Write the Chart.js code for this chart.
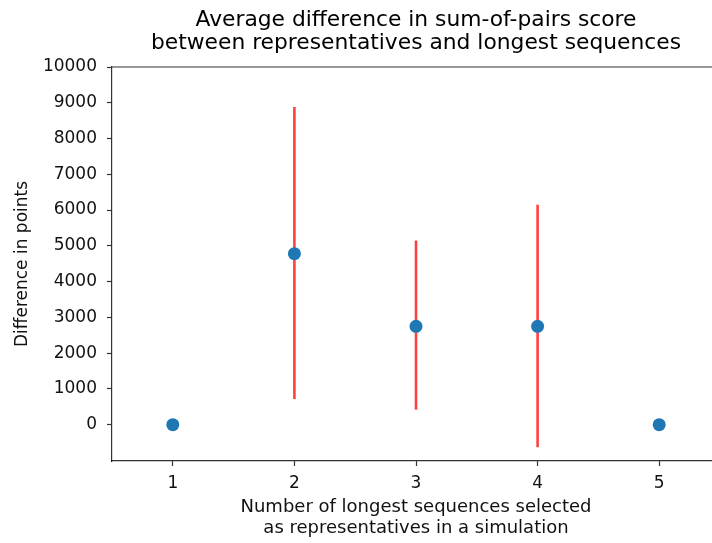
<!DOCTYPE html>
<html>
<head>
<meta charset="utf-8">
<script src="https://cdn.jsdelivr.net/npm/chart.js@4/dist/chart.umd.min.js"></script>
<style>
html, body { margin: 0; padding: 0; background: #fff; overflow: hidden; }
#wrap { position: absolute; left: 0; top: 0; width: 740px; height: 543px; }
</style>
</head>
<body>
<div id="wrap"><canvas id="c" width="740" height="543"></canvas></div>
<script>
const titleLines = ["Average difference in sum-of-pairs score", "between representatives and longest sequences"];
const xTitleLines = ["Number of longest sequences selected", "as representatives in a simulation"];
const yTitle = "Difference in points";
const xValues = [1, 2, 3, 4, 5];
const means = [0, 4780, 2750, 2750, 0];
const errLow = [0, 720, 420, -630, 0];
const errHigh = [0, 8880, 5150, 6150, 0];
const xTicks = [1, 2, 3, 4, 5];
const yTicks = [0, 1000, 2000, 3000, 4000, 5000, 6000, 7000, 8000, 9000, 10000];

const FONT = "'DejaVu Sans', sans-serif";
const AXIS = 'rgba(0,0,0,0.8)';

const datasets = [];
datasets.push({
  label: 'mean',
  data: xValues.map((x, i) => ({ x: x, y: means[i] })),
  backgroundColor: '#1f77b4',
  borderColor: '#1f77b4',
  pointRadius: 6.5,
  pointBorderWidth: 0,
  showLine: false,
  order: 0
});
xValues.forEach((x, i) => {
  datasets.push({
    label: 'err' + i,
    data: [{ x: x, y: errLow[i] }, { x: x, y: errHigh[i] }],
    borderColor: 'rgba(255,0,0,0.75)',
    borderWidth: 2.6,
    pointRadius: 0,
    showLine: true,
    order: 1
  });
});

const titlePlugin = {
  id: 'axesTitle',
  afterDraw(chart) {
    const { ctx, chartArea } = chart;
    ctx.save();
    ctx.strokeStyle = AXIS;
    ctx.lineWidth = 1.2;
    ctx.beginPath();
    ctx.moveTo(chartArea.left, chartArea.top);
    ctx.lineTo(chartArea.right, chartArea.top);
    ctx.lineTo(chartArea.right, chartArea.bottom);
    ctx.stroke();
    ctx.fillStyle = '#000';
    ctx.font = "21.8px " + FONT;
    ctx.textAlign = 'center';
    ctx.textBaseline = 'alphabetic';
    const cx = (chartArea.left + chartArea.right) / 2;
    ctx.fillText(titleLines[0], cx, 26);
    ctx.fillText(titleLines[1], cx, 49);
    ctx.restore();
  }
};

new Chart(document.getElementById('c'), {
  type: 'scatter',
  data: { datasets },
  options: {
    responsive: false,
    animation: false,
    devicePixelRatio: 1,
    layout: { padding: { top: 67, right: 20, left: 0, bottom: 0 } },
    plugins: { legend: { display: false }, tooltip: { enabled: false } },
    scales: {
      x: {
        type: 'linear',
        min: 0.5,
        max: 5.5,
        afterFit: s => { s.height = 82; },
        afterBuildTicks: s => { s.ticks = xTicks.map(v => ({ value: v })); },
        grid: { drawOnChartArea: false, drawTicks: true, tickLength: 5, tickColor: AXIS, tickWidth: 1.2 },
        border: { color: AXIS, width: 1.2 },
        ticks: { color: '#111', font: { family: FONT, size: 17 }, padding: 7, maxRotation: 0, autoSkip: false, callback: v => String(v) },
        title: { display: true, text: xTitleLines, color: '#111', font: { family: FONT, size: 18, lineHeight: 1.17 }, padding: { top: 0, bottom: 4 } }
      },
      y: {
        type: 'linear',
        min: -1015,
        max: 10000,
        afterFit: s => { s.width = 112; },
        afterBuildTicks: s => { s.ticks = yTicks.map(v => ({ value: v })); },
        grid: { drawOnChartArea: false, drawTicks: true, tickLength: 5, tickColor: AXIS, tickWidth: 1.2 },
        border: { color: AXIS, width: 1.2 },
        ticks: { color: '#111', font: { family: FONT, size: 17 }, padding: 10, autoSkip: false, callback: v => String(v) },
        title: { display: true, text: yTitle, color: '#111', font: { family: FONT, size: 17 }, padding: { top: 12, bottom: 0 } }
      }
    }
  },
  plugins: [titlePlugin]
});
</script>
</body>
</html>
